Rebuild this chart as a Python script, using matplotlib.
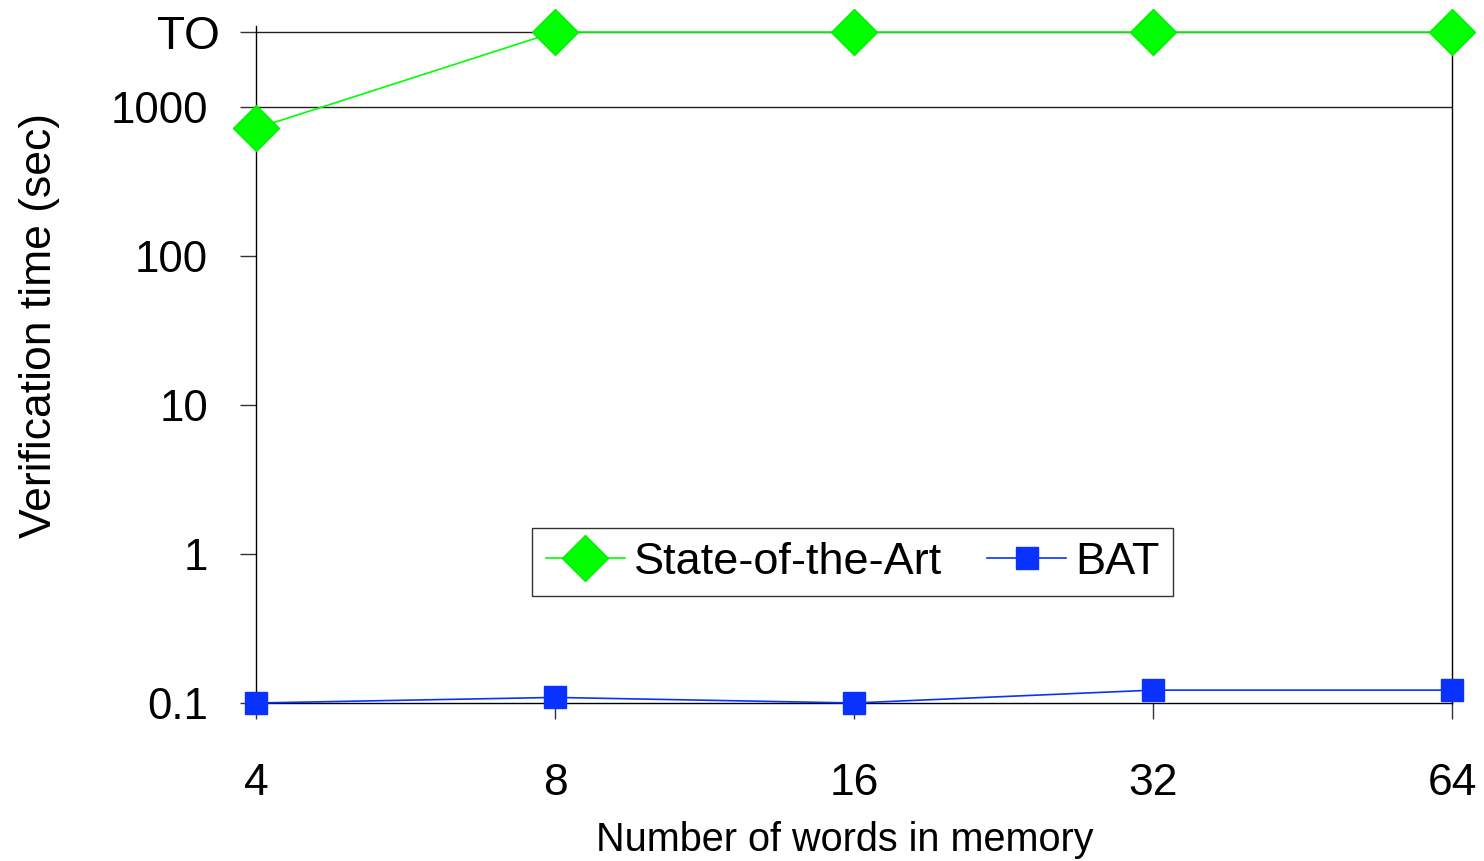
import matplotlib
matplotlib.use("Agg")
import matplotlib.pyplot as plt
from matplotlib.transforms import ScaledTranslation

plt.rcParams["font.family"] = ["Liberation Sans", "DejaVu Sans"]

# --- data ---
TO = 3186  # timeout plotted as its own tick
words = [4, 8, 16, 32, 64]
word_labels = ["4", "8", "16", "32", "64"]
sota_time = [720, TO, TO, TO, TO]
bat_time = [0.1, 0.109, 0.1, 0.122, 0.122]
y_ticks = [0.1, 1, 10, 100, 1000, TO]
y_tick_labels = ["0.1", "1", "10", "100", "1000", "TO"]

fig = plt.figure(figsize=(14.84, 8.61), dpi=100)
ax = fig.add_axes([256 / 1484, 158 / 861, 1196 / 1484, 677 / 861])

ax.plot(words, sota_time, color="#00ff00", lw=1.2, marker="D", ms=23,
        mec="#00ee00", clip_on=False, zorder=4, label="State-of-the-Art")
ax.plot(words, bat_time, color="#0a32ff", lw=1.2, marker="s", ms=16,
        clip_on=False, zorder=5, label="BAT")

ax.set_xscale("log", base=2)
ax.set_yscale("log")
ax.set_xlim(4, 64)
ax.set_ylim(0.1, 3500)

ax.set_xticks(words)
ax.set_xticklabels(word_labels)
ax.xaxis.set_minor_locator(matplotlib.ticker.NullLocator())
ax.set_yticks(y_ticks)
ax.set_yticklabels(y_tick_labels)
ax.yaxis.set_minor_locator(matplotlib.ticker.NullLocator())

ax.tick_params(axis="x", length=11.5, width=1, color="#333333", pad=32, labelsize=32)
ax.tick_params(axis="y", length=11.5, width=1, color="#333333", pad=23, labelsize=31.5)
# "TO" sits a bit further right and larger than the numeric labels
to_lbl = ax.get_yticklabels()[-1]
to_lbl.set_fontsize(33)
to_lbl.set_transform(to_lbl.get_transform() + ScaledTranslation(0.12, 0, fig.dpi_scale_trans))

for v in (1000, TO):
    ax.axhline(v, color="#222222", lw=1, zorder=2)

for side in ("left", "bottom", "right"):
    ax.spines[side].set_color("black")
    ax.spines[side].set_linewidth(1)
ax.spines["top"].set_visible(False)

ax.set_xlabel("Number of words in memory", fontsize=28.5)
ax.xaxis.set_label_coords(0.4925, -0.174)
ax.set_ylabel("Verification time (sec)", fontsize=32)
ax.yaxis.set_label_coords(-0.164, 0.558)

leg = ax.legend(loc="center", bbox_to_anchor=(0.499, 0.208), ncol=2, fontsize=32.5,
                frameon=True, fancybox=False, framealpha=1, edgecolor="#333333",
                handlelength=1.75, handletextpad=0.2, columnspacing=1.0,
                borderpad=0.3, borderaxespad=0)
leg.get_frame().set_linewidth(1)

fig.savefig("out.png", dpi=100)
